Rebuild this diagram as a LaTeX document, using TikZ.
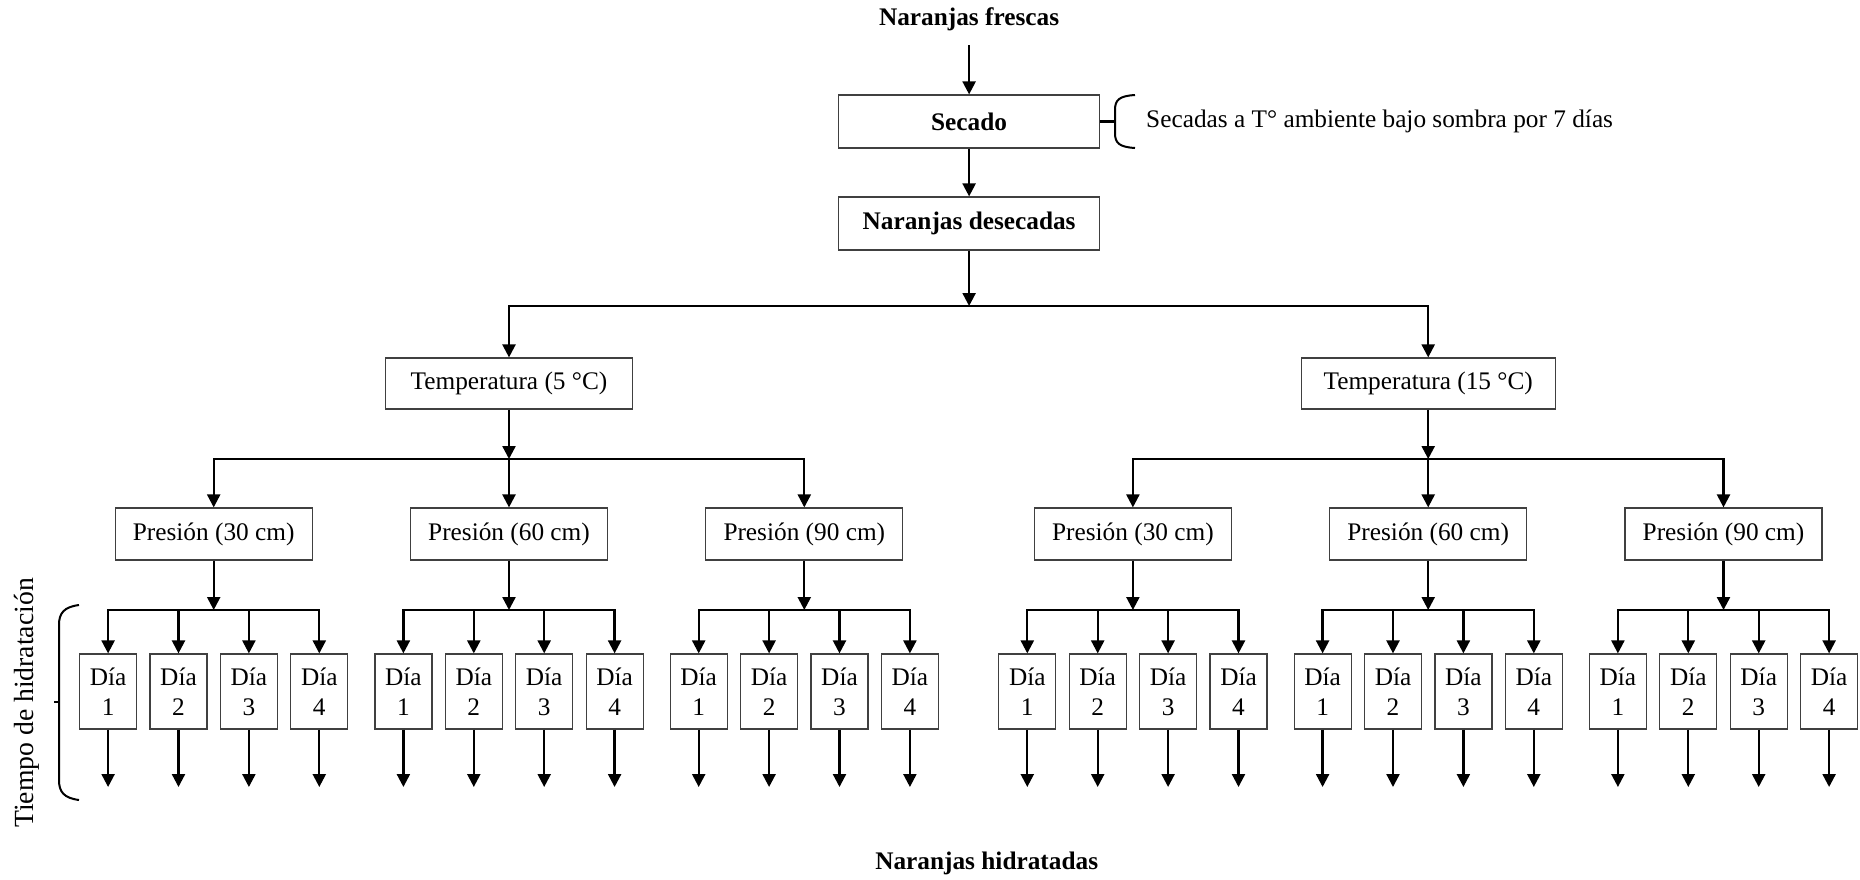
\documentclass[tikz,border=0pt]{standalone}
\usepackage{fontspec}
\setmainfont{Liberation Serif}
\usetikzlibrary{arrows.meta}
\begin{document}
\begin{tikzpicture}[x=1pt,y=-1pt,
  font=\fontsize{25.3}{30}\selectfont,
  box/.style={draw=black!75, line width=1.2pt, fill=white, inner sep=0pt, minimum height=52pt, align=center},
  conn/.style={line width=2.3pt, -{Triangle[length=13pt,width=13pt]}},
  plain/.style={line width=2.2pt},
  bold/.style={font=\fontsize{25.3}{30}\selectfont\bfseries}
]
\useasboundingbox (0,0) rectangle (1860,879);

% top chain
\node[bold] (fr) at (969.1,19) {Naranjas frescas};
\node[box, minimum width=261pt, minimum height=53pt] (sec) at (969.1,121.5) {\textbf{Secado}};
\node[box, minimum width=261pt, minimum height=53pt] (des) at (969.1,223.5) {\textbf{Naranjas desecadas}};
\draw[conn, shorten <=11pt] (fr.south) -- (sec.north);
\draw[conn] (sec.south) -- (des.north);

% brace for Secado
\coordinate (bs) at (1115,121.5);
\draw[plain] (sec.east) -- (bs);
\draw[plain, line width=2pt] (1135,95) .. controls (1119,96) and (1115,100) .. (1115,110) -- (1115,133) .. controls (1115,143) and (1119,147) .. (1135,148);
\node[anchor=west] (note) at (1142.7,121.5) {Secadas a T° ambiente bajo sombra por 7 días};

% temperatures
\coordinate (jd) at (969.1,306);
\draw[conn] (des.south) -- (jd);
\node[box, minimum width=247pt, minimum height=51pt] (ta) at (509,383.5) {Temperatura (5 °C)};
\node[box, minimum width=254pt, minimum height=51pt] (tb) at (1428.2,383.5) {Temperatura (15 °C)};
\draw[conn] (jd) -| (ta.north);
\draw[conn] (jd) -| (tb.north);

\foreach \T/\tx in {a/509, b/1428.2} {
  \coordinate (jt\T) at (\tx,459);
  \draw[conn] (t\T.south) -- (jt\T);
  \foreach \P/\dx/\lab in {1/-295.3/30, 2/0/60, 3/295.3/90} {
    \pgfmathsetmacro\px{\tx+\dx}
    \node[box, minimum width=197pt] (p\T\P) at (\px,534) {Presión (\lab\ cm)};
    \draw[conn] (jt\T) -| (p\T\P.north);
    \coordinate (jp\T\P) at (\px,610);
    \draw[conn] (p\T\P.south) -- (jp\T\P);
    \foreach \D/\ox in {1/-105.6, 2/-35.2, 3/35.2, 4/105.6} {
      \pgfmathsetmacro\dxx{\px+\ox}
      \node[box, minimum width=57pt, minimum height=75pt] (d\T\P\D) at (\dxx,691.5) {Día\\\D};
      \coordinate (e\T\P\D) at (\dxx,787);
      \draw[conn] (jp\T\P) -| (d\T\P\D.north);
      \draw[conn] (d\T\P\D.south) -- (e\T\P\D);
    }
  }
}

% left brace and label
\draw[plain, line width=2pt] (79,605) .. controls (64,607) and (59,613) .. (59,625) -- (59,780) .. controls (59,792) and (64,798) .. (79,800);
\draw[plain, line width=2pt] (59,702) -- (54,702);
\node[rotate=90, font=\fontsize{27.7}{32}\selectfont] (tiempo) at (27,703) {Tiempo de hidratación};

% bottom label
\node[bold] (hid) at (986.7,863) {Naranjas hidratadas};
\end{tikzpicture}
\end{document}
